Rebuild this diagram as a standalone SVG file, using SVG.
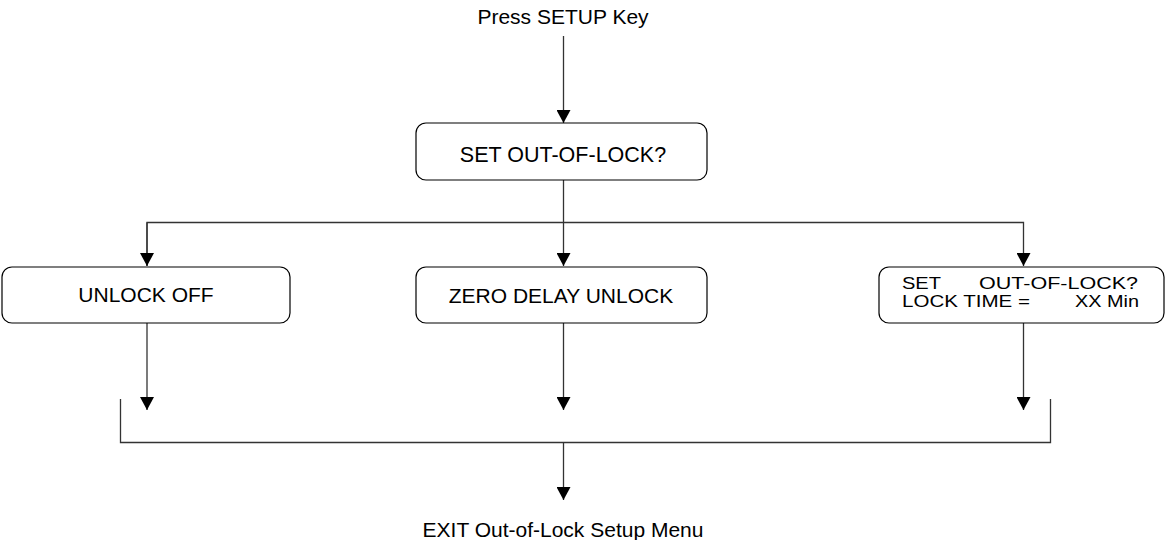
<svg xmlns="http://www.w3.org/2000/svg" width="1165" height="540" viewBox="0 0 1165 540">
<style>
text{font-family:"Liberation Sans",Arial,sans-serif;font-size:21px;fill:#000}
.sm{font-size:16.5px}
.box{fill:#fff;stroke:#000;stroke-width:1.2}
.ln{fill:none;stroke:#333;stroke-width:1.3}
</style>
<defs>
<marker id="ah" markerUnits="userSpaceOnUse" markerWidth="14" markerHeight="14" refX="13" refY="7" orient="auto">
<path d="M0,0 L13,7 L0,14 Z" fill="#000"/>
</marker>
</defs>
<g id="start"><text x="563" y="24" text-anchor="middle">Press SETUP Key</text></g>
<g id="connectors">
<line class="ln" x1="563.5" y1="36" x2="563.5" y2="123" marker-end="url(#ah)"/>
<line class="ln" x1="563.5" y1="180" x2="563.5" y2="266" marker-end="url(#ah)"/>
<polyline class="ln" points="147,266 147,222.5 1023.5,222.5 1023.5,266" marker-end="url(#ah)"/>
<line class="ln" x1="147" y1="222.5" x2="147" y2="266" marker-end="url(#ah)"/>
<line class="ln" x1="147" y1="323" x2="147" y2="410" marker-end="url(#ah)"/>
<line class="ln" x1="563.5" y1="323" x2="563.5" y2="410" marker-end="url(#ah)"/>
<line class="ln" x1="1023.5" y1="323" x2="1023.5" y2="410" marker-end="url(#ah)"/>
<polyline class="ln" points="120.5,399 120.5,442.5 1050.5,442.5 1050.5,399"/>
<line class="ln" x1="563.5" y1="442.5" x2="563.5" y2="500" marker-end="url(#ah)"/>
</g>
<g id="setOutOfLock">
<rect class="box" x="416" y="123" width="291" height="57" rx="10"/>
<text x="563" y="161.5" text-anchor="middle" style="font-size:21.5px">SET OUT-OF-LOCK?</text>
</g>
<g id="unlockOff">
<rect class="box" x="2" y="267" width="288" height="56" rx="10"/>
<text x="146" y="302" text-anchor="middle">UNLOCK OFF</text>
</g>
<g id="zeroDelay">
<rect class="box" x="416" y="267" width="291" height="56" rx="10"/>
<text x="561" y="302.5" text-anchor="middle">ZERO DELAY UNLOCK</text>
</g>
<g id="lockTime">
<rect class="box" x="879" y="267" width="285" height="56" rx="10"/>
<text class="sm" x="902" y="288.5" textLength="39" lengthAdjust="spacingAndGlyphs">SET</text>
<text class="sm" x="979" y="288.5" textLength="159" lengthAdjust="spacingAndGlyphs">OUT-OF-LOCK?</text>
<text class="sm" x="902" y="307" textLength="128" lengthAdjust="spacingAndGlyphs">LOCK TIME =</text>
<text class="sm" x="1075" y="307" textLength="64" lengthAdjust="spacingAndGlyphs">XX Min</text>
</g>
<g id="exit"><text x="563" y="537" text-anchor="middle">EXIT Out-of-Lock Setup Menu</text></g>
</svg>
